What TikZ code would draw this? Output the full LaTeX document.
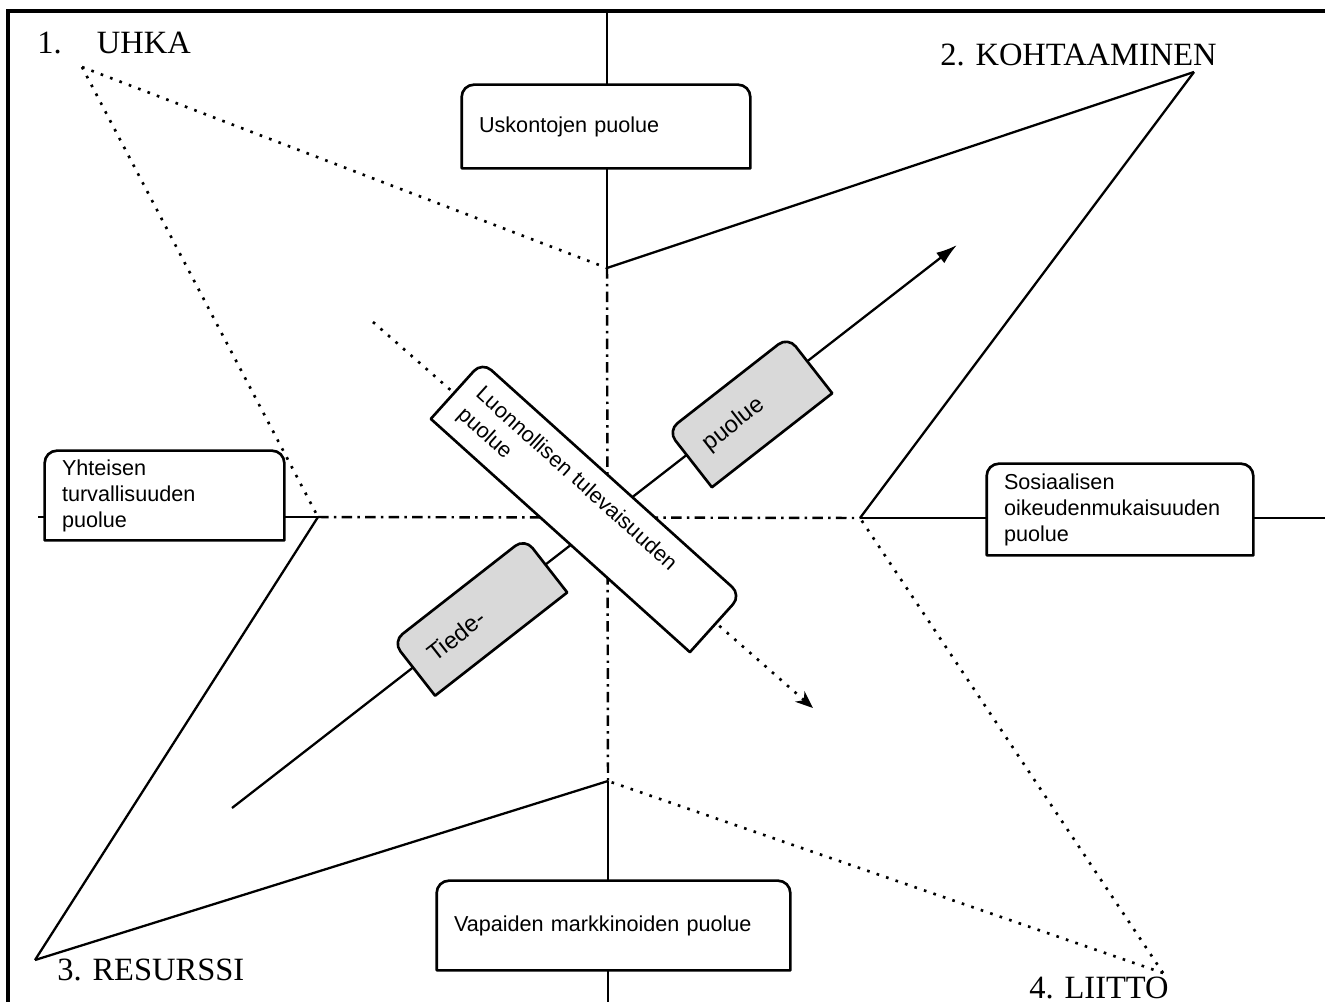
\documentclass[tikz,border=0pt]{standalone}
\usepackage{fontspec}
\setmainfont{Liberation Serif}
\newfontfamily\arial{Liberation Sans}
\usetikzlibrary{arrows.meta}
\definecolor{harmaa}{HTML}{D9D9D9}
\pgfdeclarelayer{tausta}
\pgfdeclarelayer{laatikot}
\pgfsetlayers{tausta,laatikot,main}
\tikzset{
  puolue/.style={font=\arial\fontsize{12.3}{14.8}\selectfont, align=left, inner xsep=0.34cm, inner ysep=0pt},
  harmaapuolue/.style={puolue, font=\arial\fontsize{13.5}{16}\selectfont, inner xsep=0.4cm},
  reuna/.style={line width=1.5pt, line join=round},
  viiva/.style={line width=1.3pt},
  pisteet/.style={line width=1.5pt, dash pattern=on 1.5pt off 4.2pt},
  katko/.style={line width=1.4pt, dash pattern=on 6pt off 3pt on 1.4pt off 3pt},
  vaihe/.style={font=\fontsize{18.5}{20}\selectfont, inner sep=0pt, anchor=base west}
}
% laatikon reuna: vain ylakulmat pyoristetty
\newcommand{\kehys}[2]{%
  \begin{pgfonlayer}{laatikot}
    \filldraw[reuna, fill=#2] (#1.south west) [rounded corners=7pt] -- (#1.north west) -- (#1.north east) [sharp corners] -- (#1.south east) -- cycle;
  \end{pgfonlayer}}

\begin{document}
\begin{tikzpicture}[x=0.02cm, y=-0.02cm]
  \useasboundingbox (0,0) rectangle (1325,1002);
  % kehys
  \coordinate (kulma) at (8,11);
  \coordinate (ylaraja) at (1325,11);
  \coordinate (alaraja) at (8,1002);
  \draw[line width=1.8pt] (ylaraja) -- (kulma) -- (alaraja);

  % vaiheiden karjet ja risteykset
  \coordinate (uhka) at (82,67);
  \coordinate (kohtaaminen) at (1194,72);
  \coordinate (resurssi) at (35,960);
  \coordinate (liitto) at (1163,973);
  \coordinate (yla) at (607,268);
  \coordinate (ala) at (608,781);
  \coordinate (vasen) at (318,517);
  \coordinate (oikea) at (860,518);
  \coordinate (tynka) at (38,517);
  \coordinate (kanta) at (232,808);
  \coordinate (karki) at (957,245);
  \coordinate (kaari) at (373,322);
  \coordinate (suunta) at (813,708);

  \node[vaihe] (l1) at (37,53) {1.\hspace{20pt}UHKA};
  \node[vaihe] (l2) at (940,65) {2. KOHTAAMINEN};
  \node[vaihe] (l3) at (57,980) {3. RESURSSI};
  \node[vaihe] (l4) at (1029,998) {4. LIITTO};

  % puolueet
  \node[puolue, text width=5.08cm, minimum height=1.66cm] (usk) at (606,126.5) {Uskontojen puolue};
  \node[puolue, text width=6.38cm, minimum height=1.78cm] (vapaa) at (613.5,925.5) {Vapaiden markkinoiden puolue};
  \node[puolue, text width=4.10cm, minimum height=1.78cm] (yht) at (164.5,495.5) {Yhteisen\\turvallisuuden\\puolue};
  \node[puolue, text width=4.64cm, minimum height=1.82cm] (sos) at (1120,509.5) {Sosiaalisen\\oikeudenmukaisuuden\\puolue};
  \node[puolue, font=\arial\fontsize{12.3}{15.6}\selectfont, text width=6.28cm, minimum height=1.52cm, rotate=-42] (luonto) at (586,507) {Luonnollisen tulevaisuuden\\puolue};
  \node[harmaapuolue, text width=2.54cm, minimum height=1.36cm, rotate=38] (tiede) at (480,617) {Tiede-};
  \node[harmaapuolue, text width=2.24cm, minimum height=1.42cm, rotate=38] (tpuolue) at (750,412) {puolue};

  \foreach \n in {usk,vapaa,yht,sos,luonto} {\kehys{\n}{white}}
  \foreach \n in {tiede,tpuolue} {\kehys{\n}{harmaa}}

  \begin{pgfonlayer}{tausta}
    % akselit
    \draw[viiva] (yla |- usk.north) -- (yla |- kulma);
    \draw[viiva] (yla |- usk.south) -- (yla);
    \draw[viiva] (ala |- vapaa.north) -- (ala);
    \draw[viiva] (ala |- vapaa.south) -- (ala |- alaraja);
    \draw[viiva] (yht.east |- vasen) -- (vasen);
    \draw[viiva] (yht.west |- vasen) -- (tynka);
    \draw[viiva] (oikea) -- (sos.west |- oikea);
    \draw[viiva] (sos.east |- oikea) -- (ylaraja |- oikea);
    \draw[katko] (yla) -- (ala);
    \draw[katko] (vasen) -- (oikea);
    % vaiheet
    \draw[viiva] (resurssi) -- (vasen);
    \draw[viiva] (resurssi) -- (ala);
    \draw[viiva] (kohtaaminen) -- (yla);
    \draw[viiva] (kohtaaminen) -- (oikea);
    \draw[pisteet] (uhka) -- (yla);
    \draw[pisteet] (uhka) -- (vasen);
    \draw[pisteet] (liitto) -- (ala);
    \draw[pisteet] (liitto) -- (oikea);
    % nuolet
    \draw[viiva, -{Latex[length=12pt,width=7.5pt]}] (kanta) -- (karki);
    \draw[pisteet, -{Stealth[length=10pt,width=8pt]}] (kaari) -- (suunta);
  \end{pgfonlayer}
\end{tikzpicture}
\end{document}
